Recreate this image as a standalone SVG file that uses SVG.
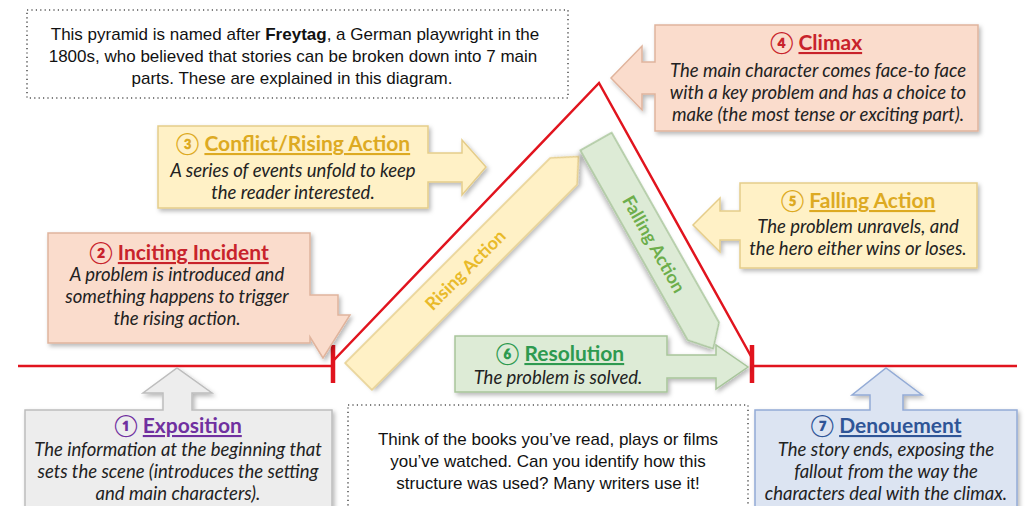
<svg xmlns="http://www.w3.org/2000/svg" width="1029" height="506" viewBox="0 0 1029 506">
<defs>
<filter id="sh" x="-10%" y="-10%" width="120%" height="130%">
<feDropShadow dx="2" dy="2.5" stdDeviation="2" flood-color="#000" flood-opacity="0.28"/>
</filter>
<style>
.t{font-family:Lato,"DejaVu Sans",sans-serif;font-weight:700;font-size:21px;text-anchor:middle}
.b{font-family:Lato,"DejaVu Sans",sans-serif;font-style:italic;font-size:18.5px;fill:#222;text-anchor:middle}
.p{font-family:"Liberation Sans",Arial,sans-serif;font-size:17px;fill:#111;text-anchor:middle}
.u{text-decoration:underline}
.peach{fill:#FADCCC;stroke:#E0B49D;stroke-width:1.5}
.yel{fill:#FFF1C6;stroke:#E5CD8A;stroke-width:1.5}
.grn{fill:#DDEBD6;stroke:#A8C59B;stroke-width:1.5}
.gry{fill:#EDEDED;stroke:#BDBDBD;stroke-width:1.5}
.blu{fill:#DCE4F2;stroke:#93ABD6;stroke-width:1.5}
.dot{fill:#fff;stroke:#555;stroke-width:1.6;stroke-dasharray:1.2 3.2}
.red{stroke:#E1141E;fill:none}
.ax{font-family:Lato,"DejaVu Sans",sans-serif;font-weight:700;font-size:18px;text-anchor:middle}
</style>
</defs>
<rect width="1029" height="506" fill="#fff"/>

<g id="connectors">
<polyline class="red" stroke-width="2.5" points="18,366 333,366"/>
<polyline class="red" stroke-width="2.5" points="334,360 599,83 752,358"/>
<polyline class="red" stroke-width="2.5" points="752,366 1017,366"/>
<line class="red" stroke-width="4.5" x1="333" y1="345" x2="333" y2="383"/>
<line class="red" stroke-width="4.5" x1="752" y1="345" x2="752" y2="383"/>
</g>

<g id="intro">
<rect class="dot" x="27" y="10" width="541" height="88"/>
<text class="p" x="295" y="40">This pyramid is named after <tspan font-weight="700">Freytag</tspan>, a German playwright in the</text>
<text class="p" x="293" y="62">1800s, who believed that stories can be broken down into 7 main</text>
<text class="p" x="292" y="84">parts. These are explained in this diagram.</text>
</g>

<g id="rising-action">
<g transform="translate(358.5,376.5) rotate(-45)">
<polygon class="yel" fill="#FFF3D2" filter="url(#sh)" points="0,-19 290,-19 311,0 290,19 0,19"/>
<text class="ax" x="151" y="6.5" fill="#E9BA2A">Rising Action</text>
</g>
</g>

<g id="falling-action">
<g transform="translate(596,141.5) rotate(60.5)">
<polygon class="grn" stroke="#8DB080" filter="url(#sh)" points="0,-18 218,-18 238,0 218,18 0,18"/>
<text class="ax" x="118" y="6.5" fill="#6DAE4C">Falling Action</text>
</g>
</g>

<g id="climax">
<path class="peach" filter="url(#sh)" d="M655,25 H978 V131 H655 V94 H642 V110 L611,78 L642,46 V62 H655 Z"/>
<text class="t" x="816" y="50" fill="#C8232B"><tspan>④ </tspan><tspan class="u">Climax</tspan></text>
<text class="b" x="818" y="77">The main character comes face-to face</text>
<text class="b" x="818" y="99">with a key problem and has a choice to</text>
<text class="b" x="818" y="121">make (the most tense or exciting part).</text>
</g>

<g id="conflict">
<path class="yel" filter="url(#sh)" d="M158,126 H428 V153 H462 V140 L486,167 L462,195 V182 H428 V208 H158 Z"/>
<text class="t" x="293" y="151" fill="#DDAA22"><tspan>③ </tspan><tspan class="u">Conflict/Rising Action</tspan></text>
<text class="b" x="293" y="177">A series of events unfold to keep</text>
<text class="b" x="293" y="199">the reader interested.</text>
</g>

<g id="falling">
<path class="yel" filter="url(#sh)" d="M740,183 H977 V268 H740 V240 H720 V252 L693,225 L720,198 V211 H740 Z"/>
<text class="t" x="858" y="208" fill="#DDAA22"><tspan>⑤ </tspan><tspan class="u">Falling Action</tspan></text>
<text class="b" x="858" y="233">The problem unravels, and</text>
<text class="b" x="858" y="255">the hero either wins or loses.</text>
</g>

<g id="inciting">
<path class="peach" filter="url(#sh)" d="M48,233 H310 V295 H338 V315 H350 L323,358 L310,337 V343 H48 Z"/>
<text class="t" x="179" y="260" fill="#C8232B"><tspan>② </tspan><tspan class="u">Inciting Incident</tspan></text>
<text class="b" x="177" y="281">A problem is introduced and</text>
<text class="b" x="177" y="303">something happens to trigger</text>
<text class="b" x="177" y="325">the rising action.</text>
</g>

<g id="resolution">
<path class="grn" filter="url(#sh)" d="M455,336 H667 V355 H716 V345 L748,367 L716,389 V378 H667 V392 H455 Z"/>
<text class="t" x="560" y="361" fill="#2E9A50"><tspan>⑥ </tspan><tspan class="u">Resolution</tspan></text>
<text class="b" x="558" y="384">The problem is solved.</text>
</g>

<g id="exposition">
<path class="gry" filter="url(#sh)" d="M25,410 H163 V393 H143 L177,368 L212,393 H192 V410 H332 V520 H25 Z"/>
<text class="t" x="178" y="433" fill="#7030A0"><tspan>① </tspan><tspan class="u">Exposition</tspan></text>
<text class="b" x="178" y="456">The information at the beginning that</text>
<text class="b" x="178" y="478">sets the scene (introduces the setting</text>
<text class="b" x="178" y="500">and main characters).</text>
</g>

<g id="think">
<rect class="dot" x="348" y="405" width="400" height="110"/>
<text class="p" x="548" y="445">Think of the books you’ve read, plays or films</text>
<text class="p" x="548" y="467">you’ve watched. Can you identify how this</text>
<text class="p" x="548" y="489">structure was used? Many writers use it!</text>
</g>

<g id="denouement">
<path class="blu" filter="url(#sh)" d="M755,410 H870 V395 H852 L886,368 L922,395 H903 V410 H1017 V520 H755 Z"/>
<text class="t" x="886" y="433" fill="#2F5597"><tspan>⑦ </tspan><tspan class="u">Denouement</tspan></text>
<text class="b" x="886" y="456">The story ends, exposing the</text>
<text class="b" x="886" y="478">fallout from the way the</text>
<text class="b" x="886" y="500">characters deal with the climax.</text>
</g>
</svg>
